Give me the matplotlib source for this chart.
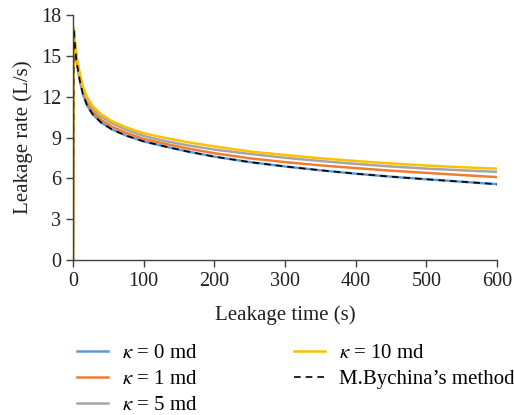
import matplotlib
matplotlib.use("Agg")
import matplotlib.pyplot as plt

plt.rcParams['font.family'] = ['Liberation Serif', 'DejaVu Serif']
plt.rcParams['mathtext.fontset'] = 'stix'

# leakage time (s)
time_s = [0, 1, 3, 5, 7, 10, 14, 20, 28, 40, 55, 75, 100, 130, 160,
          200, 250, 300, 350, 400, 450, 500, 550, 600]

# leakage rate (L/s) for each permeability
rate_k0 = [0, 17.0, 15.6, 14.6, 14.0, 13.1, 12.2, 11.35, 10.7, 10.1, 9.6, 9.15, 8.72, 8.35, 8.0,
           7.6, 7.2, 6.88, 6.6, 6.35, 6.13, 5.94, 5.76, 5.58]
rate_k1 = [0, 17.0, 15.7, 14.75, 14.15, 13.3, 12.4, 11.55, 10.9, 10.3, 9.8, 9.35, 8.9, 8.55, 8.22,
           7.85, 7.48, 7.2, 6.96, 6.76, 6.57, 6.41, 6.25, 6.1]
rate_k5 = [0, 17.0, 15.8, 14.9, 14.3, 13.45, 12.6, 11.8, 11.15, 10.55, 10.05, 9.58, 9.12, 8.75, 8.45,
           8.12, 7.8, 7.52, 7.28, 7.07, 6.88, 6.72, 6.6, 6.48]
rate_k10 = [0, 17.0, 15.9, 15.0, 14.4, 13.6, 12.75, 11.95, 11.3, 10.7, 10.2, 9.75, 9.32, 8.98, 8.68,
            8.35, 7.98, 7.72, 7.48, 7.28, 7.1, 6.95, 6.82, 6.72]
rate_bychina = [0, 17.0, 15.6, 14.6, 14.0, 13.1, 12.2, 11.35, 10.7, 10.1, 9.6, 9.15, 8.72, 8.35, 8.0,
                7.6, 7.2, 6.88, 6.6, 6.35, 6.13, 5.94, 5.76, 5.58]

fig = plt.figure(figsize=(5.14, 4.15), dpi=100)
ax = fig.add_axes([0.142, 0.373, 0.825, 0.591])

ax.plot(time_s, rate_k0, color='#5B9BD5', lw=1.8, label=r'$\kappa$ = 0 md')
ax.plot(time_s, rate_k1, color='#ED7D31', lw=1.8, label=r'$\kappa$ = 1 md')
ax.plot(time_s, rate_k5, color='#A5A5A5', lw=1.8, label=r'$\kappa$ = 5 md')
ax.plot(time_s, rate_k10, color='#FFC000', lw=1.8, label=r'$\kappa$ = 10 md')
ax.plot(time_s, rate_bychina, color='black', lw=1.2, ls=(0, (4, 3)),
        label='M.Bychina\u2019s method')

ax.set_xlim(0, 600)
ax.set_ylim(0, 18)
ax.set_xticks(range(0, 601, 100))
ax.set_yticks(range(0, 19, 3))
ax.spines['top'].set_visible(False)
ax.spines['right'].set_visible(False)
for s in ('left', 'bottom'):
    ax.spines[s].set_color('#404040')
    ax.spines[s].set_linewidth(1.0)
ax.tick_params(direction='out', length=5, width=1.0, color='#404040',
               labelsize=14.5, labelcolor='#231f20')
ax.set_xlabel('Leakage time (s)', fontsize=15, color='#231f20', labelpad=10)
ax.set_ylabel('Leakage rate (L/s)', fontsize=15, color='#231f20', labelpad=6)

# two-column legend below the axes
handles, labels = ax.get_legend_handles_labels()
fig.legend(handles, labels, loc='upper left', bbox_to_anchor=(0.150, 0.172), ncol=2,
           frameon=False, fontsize=15, handlelength=1.5, handletextpad=0.67,
           columnspacing=4.6, labelspacing=0.3, borderpad=0, borderaxespad=0)

fig.savefig('out.png', dpi=100)
